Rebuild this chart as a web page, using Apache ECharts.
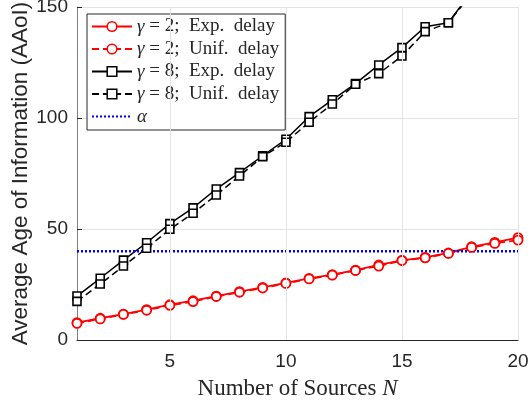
<!DOCTYPE html>
<html><head><meta charset="utf-8">
<script src="https://cdn.jsdelivr.net/npm/echarts@6/dist/echarts.min.js"></script>
<style>html,body{margin:0;padding:0;background:#fff}#c{width:530px;height:405px}</style>
</head><body><div id="c"></div>
<script>
const N = [1,2,3,4,5,6,7,8,9,10,11,12,13,14,15,16,17,18,19,20];
const g2Exp  = [7.8,9.8,11.7,13.7,15.9,17.7,19.8,21.8,23.7,25.7,27.8,29.4,31.5,33.8,35.9,37.2,39.2,42.0,44.0,46.1];
const g2Unif = [7.5,9.5,11.5,13.4,15.6,17.3,19.6,21.5,23.4,25.5,27.5,29.2,31.3,33.3,35.8,37.0,39.0,41.7,43.5,45.0];
const g8Exp  = [19.8,27.8,36.0,43.8,52.4,59.5,68.0,75.4,83.0,90.4,100.6,108.2,115.5,123.9,131.7,141.1,142.9,157.0];
const g8Unif = [17.4,25.2,33.3,41.3,49.9,57.1,65.3,73.9,82.6,89.1,98.1,106.3,115.2,120.0,127.9,138.9,142.9,156.0];
const alpha = 40;
const xTicks = [5,10,15,20];
const yTicks = [0,50,100,150];
const legendNames = ['g2e','g2u','g8e','g8u','alpha'];
const legendText = {
  g2e: '{i|γ} = 2;  Exp.  delay',
  g2u: '{i|γ} = 2;  Unif.  delay',
  g8e: '{i|γ} = 8;  Exp.  delay',
  g8u: '{i|γ} = 8;  Unif.  delay',
  alpha: '{i|α}'
};
const pairs = (ys) => ys.map((v,i)=>[N[i], v]);
const chart = echarts.init(document.getElementById('c'), null, {renderer:'canvas'});
const serif = 'Liberation Serif';
const sans = 'Liberation Sans';
chart.setOption({
  animation: false,
  backgroundColor: '#fff',
  grid: {left: 77, right: 12, top: 7, bottom: 65, containLabel: false, outerBoundsMode: 'none'},
  xAxis: {
    type: 'value', min: 1, max: 20,
    axisLine: {show: true, lineStyle: {color: '#262626', width: 1}},
    axisTick: {show: true, inside: true, length: 5, customValues: xTicks, lineStyle: {color: '#262626'}},
    axisLabel: {customValues: xTicks, color: '#262626', fontFamily: sans, fontSize: 19, margin: 12},
    splitLine: {show: false},
    name: '{t|Number of Sources }{i|N}',
    nameLocation: 'middle', nameGap: 37,
    nameTextStyle: {rich: {t: {fontFamily: serif, fontSize: 23, color: '#262626'}, i: {fontFamily: serif, fontStyle: 'italic', fontSize: 23, color: '#262626'}}}
  },
  yAxis: {
    type: 'value', min: 0, max: 150, interval: 50,
    axisLine: {show: true, lineStyle: {color: '#808080', width: 1}},
    axisTick: {show: true, inside: true, length: 5, lineStyle: {color: '#262626'}},
    axisLabel: {color: '#262626', fontFamily: sans, fontSize: 19, margin: 9},
    splitLine: {show: true, lineStyle: {color: '#e3e3e3', width: 1}},
    name: 'Average Age of Information (AAoI)',
    nameLocation: 'middle', nameGap: 45, nameMoveOverlap: false,
    nameTextStyle: {fontFamily: sans, fontSize: 22.5, color: '#262626'}
  },
  legend: {
    data: legendNames.map(n => n === 'alpha' ? {name: n, itemStyle: {opacity: 0}} : {name: n}),
    orient: 'vertical', left: 87, top: 14,
    itemWidth: 40, itemHeight: 12, itemGap: 3.5,
    padding: [3, 6, 4, 4],
    backgroundColor: '#fff', borderColor: '#262626', borderWidth: 1,
    formatter: (n) => legendText[n],
    textStyle: {fontFamily: serif, fontSize: 19, lineHeight: 19, color: '#262626',
      rich: {i: {fontFamily: serif, fontStyle: 'italic', fontSize: 19, lineHeight: 19, color: '#262626'}}},
    itemStyle: {borderWidth: 1.5}
  },
  series: [
    {type: 'line', name: 'vgrid', data: [], silent: true, legendHoverLink: false,
     markLine: {silent: true, symbol: 'none', label: {show: false},
       lineStyle: {color: '#e3e3e3', type: 'solid', width: 1},
       data: xTicks.map(v => ({xAxis: v}))}, z: 0},
    {type: 'line', name: 'g2e', data: pairs(g2Exp), symbol: 'circle', symbolSize: 9,
     itemStyle: {color: '#fff', borderColor: '#ff0000', borderWidth: 1.8},
     lineStyle: {color: '#ff0000', width: 1.8, type: 'solid'}, color: '#ff0000'},
    {type: 'line', name: 'g2u', data: pairs(g2Unif), symbol: 'circle', symbolSize: 9,
     itemStyle: {color: '#fff', borderColor: '#ff0000', borderWidth: 1.8},
     lineStyle: {color: '#ff0000', width: 1.8, type: [7,4]}, color: '#ff0000'},
    {type: 'line', name: 'g8e', data: pairs(g8Exp), symbol: 'rect', symbolSize: 8,
     itemStyle: {color: '#fff', borderColor: '#000', borderWidth: 1.6},
     lineStyle: {color: '#000', width: 1.5, type: 'solid'}, color: '#000'},
    {type: 'line', name: 'g8u', data: pairs(g8Unif), symbol: 'rect', symbolSize: 8,
     itemStyle: {color: '#fff', borderColor: '#000', borderWidth: 1.6},
     lineStyle: {color: '#000', width: 1.5, type: [7,4]}, color: '#000'},
    {type: 'line', name: 'alpha', data: N.map(n => [n, alpha]), symbol: 'none',
     lineStyle: {color: '#0000ff', width: 2.5, type: [2,2]}, color: '#0000ff'}
  ]
});
</script></body></html>
